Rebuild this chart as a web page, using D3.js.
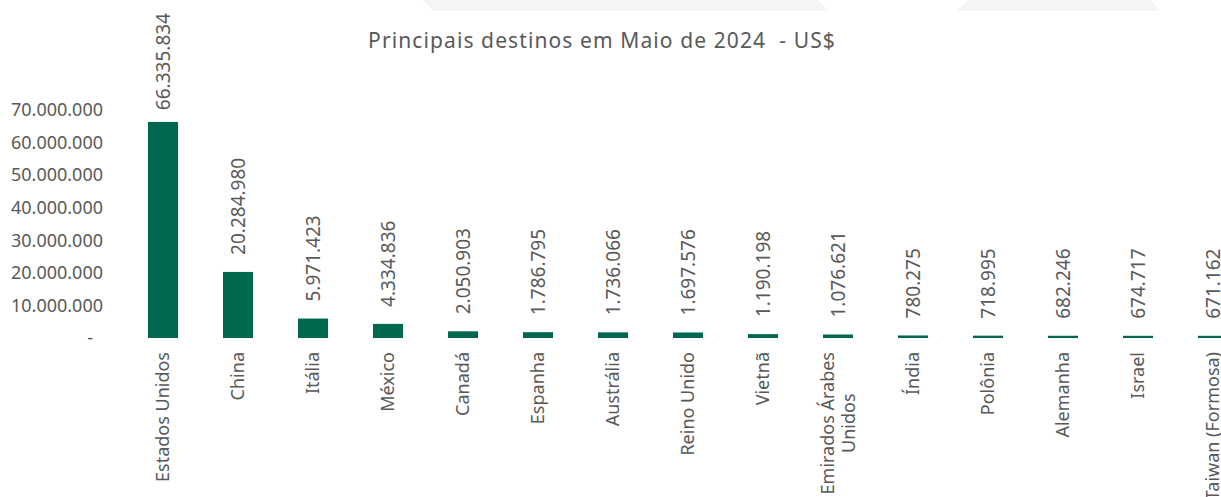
<!DOCTYPE html>
<html>
<head>
<meta charset="utf-8">
<script src="https://cdn.jsdelivr.net/npm/d3@7"></script>
<style>
  body { margin: 0; background: #fff; }
  svg { display: block; font-family: "Noto Sans", sans-serif; }
</style>
</head>
<body>
<svg id="canvas" width="1221" height="497"></svg>
<script>
const paises = ["Estados Unidos", "China", "Itália", "México", "Canadá", "Espanha", "Austrália",
  "Reino Unido", "Vietnã", "Emirados Árabes\nUnidos", "Índia", "Polônia", "Alemanha", "Israel",
  "Taiwan (Formosa)"];
const valores = [66335834, 20284980, 5971423, 4334836, 2050903, 1786795, 1736066,
  1697576, 1190198, 1076621, 780275, 718995, 682246, 674717, 671162];
const ticksY = [0, 10000000, 20000000, 30000000, 40000000, 50000000, 60000000, 70000000];
const titulo = "Principais destinos em Maio de 2024  - US$";

const svg = d3.select("#canvas");
const cinza = "#595959";
const verde = "#00684f";

const br = d3.formatLocale({ decimal: ",", thousands: ".", grouping: [3], currency: ["", ""] });
const fmt = br.format(",.0f");

// formas claras no topo
svg.append("polygon").attr("points", "423,0 818,0 828,11 433,11").attr("fill", "#f5f5f3");
svg.append("polygon").attr("points", "967,0 1150,0 1160,11 957,11").attr("fill", "#f5f5f3");

const x = d3.scaleBand().domain(paises).range([125.5, 1250.5]).paddingInner(0.6).paddingOuter(0.3);
const y = d3.scaleLinear().domain([0, 70000000]).range([338, 110]);

svg.append("text")
  .attr("x", 602).attr("y", 48)
  .attr("text-anchor", "middle")
  .attr("fill", cinza)
  .style("font-size", "21px")
  .style("letter-spacing", "1.1px")
  .style("white-space", "pre")
  .text(titulo);

// eixo Y
const eixoY = svg.append("g")
  .attr("transform", "translate(103,0)")
  .call(d3.axisLeft(y).tickValues(ticksY).tickSize(0).tickPadding(0)
    .tickFormat(d => d === 0 ? "-" : fmt(d)));
eixoY.select(".domain").remove();
eixoY.selectAll("text")
  .attr("fill", cinza)
  .style("font-size", "18px")
  .style("font-family", "'Noto Sans', sans-serif")
  .attr("dx", d => d === 0 ? -10 : 0);

// barras
svg.append("g").selectAll("rect")
  .data(valores)
  .join("rect")
  .attr("x", (d, i) => x(paises[i]))
  .attr("width", x.bandwidth())
  .attr("y", d => y(d))
  .attr("height", d => y(0) - y(d))
  .attr("fill", verde);

// rótulos de valor
svg.append("g").selectAll("text")
  .data(valores)
  .join("text")
  .attr("fill", cinza)
  .style("font-size", "19px")
  .attr("text-anchor", "start")
  .attr("dy", "0.35em")
  .text(d => fmt(d))
  .each(function (d, i) {
    const len = this.getComputedTextLength();
    let base = y(d) - 17;
    if (base - len < 13) base = 13 + len;
    const cx = x(paises[i]) + x.bandwidth() / 2;
    d3.select(this).attr("transform", `translate(${cx},${base}) rotate(-90)`);
  });

// rótulos das categorias
svg.append("g").selectAll("text")
  .data(paises)
  .join("text")
  .attr("fill", cinza)
  .style("font-size", "18px")
  .attr("text-anchor", "middle")
  .attr("transform", d => `translate(${x(d) + x.bandwidth() / 2},352) rotate(-90)`)
  .each(function (d) {
    const linhas = d.split("\n");
    const t = d3.select(this);
    linhas.forEach((l, k) => {
      t.append("tspan")
        .attr("x", 0)
        .attr("dy", (k === 0 ? (0.35 - (linhas.length - 1) * 0.6) : 1.2) + "em")
        .text(l);
    });
    const w = this.getBBox().width;
    t.selectAll("tspan").attr("x", -w / 2);
  });
</script>
</body>
</html>
